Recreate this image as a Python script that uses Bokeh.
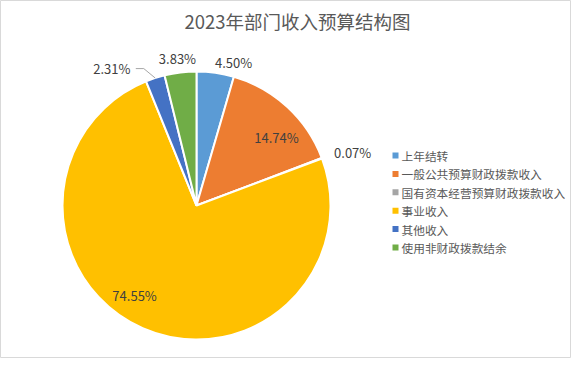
import math
from bokeh.plotting import figure
from bokeh.models import ColumnDataSource
from bokeh.core.properties import value
from bokeh.embed import file_html
from bokeh.resources import INLINE

# ---- data ----
title = "2023年部门收入预算结构图"
categories = ["上年结转", "一般公共预算财政拨款收入", "国有资本经营预算财政拨款收入",
              "事业收入", "其他收入", "使用非财政拨款结余"]
percents = [4.50, 14.74, 0.07, 74.55, 2.31, 3.83]
labels = ["4.50%", "14.74%", "0.07%", "74.55%", "2.31%", "3.83%"]

# ---- style ----
colors = ["#5B9BD5", "#ED7D31", "#A5A5A5", "#FFC000", "#4472C4", "#70AD47"]
label_radius = [148, 105, 165, 109, 161, 148]
label_nudge_deg = [6.4, 6.9, 1.8, 10.9, -13.8, -0.5]
FONT = "Noto Sans CJK SC"

W, H = 571, 358
CX, CY, R = 196, 153, 134

p = figure(width=W, height=H, x_range=(0, W), y_range=(0, H),
           output_backend="svg", toolbar_location=None, min_border=0)
p.axis.visible = False
p.grid.visible = False
p.outline_line_color = "#D9D9D9"
p.outline_line_width = 1
p.background_fill_color = "white"
p.border_fill_color = "white"

total = sum(percents)
starts, ends, mids = [], [], []
cum = 0.0
for v in percents:
    a0 = cum / total * 2 * math.pi
    cum += v
    a1 = cum / total * 2 * math.pi
    starts.append(math.pi / 2 - a0)
    ends.append(math.pi / 2 - a1)
    mids.append((a0 + a1) / 2)

src = ColumnDataSource(dict(start=starts, end=ends, color=colors, cat=categories))
p.wedge(x=CX, y=CY, radius=R, start_angle="start", end_angle="end",
        direction="clock", fill_color="color", line_color="white",
        line_width=2, source=src)

# data labels
lx, ly = [], []
for m, rr, nd in zip(mids, label_radius, label_nudge_deg):
    t = m + math.radians(nd)
    lx.append(CX + rr * math.sin(t))
    ly.append(CY + rr * math.cos(t))
p.text(x=lx, y=ly, text=labels, text_font=value(FONT), text_font_size="13px",
       text_color="#404040", text_align="center", text_baseline="middle")

# leader line for the small 2.31% slice
i = 4
ex = CX + R * math.sin(mids[i])
ey = CY + R * math.cos(mids[i])
p.line(x=[lx[i] + 24, lx[i] + 32, ex], y=[ly[i], ly[i], ey],
       line_color="#A6A6A6", line_width=1)

# title
p.text(x=[297], y=[338], text=[title], text_font=value(FONT), text_font_size="18.5px",
       text_color="#595959", text_align="center", text_baseline="middle")

# legend
leg_x, leg_y0, leg_dy = 395, 203, 18.4
ys = [leg_y0 - k * leg_dy for k in range(len(categories))]
p.rect(x=[leg_x] * len(ys), y=ys, width=6, height=6, fill_color=colors, line_color=None)
p.text(x=[leg_x + 6] * len(ys), y=ys, text=categories, text_font=value(FONT),
       text_font_size="11.7px", text_color="#595959", text_align="left",
       text_baseline="middle")

open("out.html", "w").write(file_html(p, INLINE))
